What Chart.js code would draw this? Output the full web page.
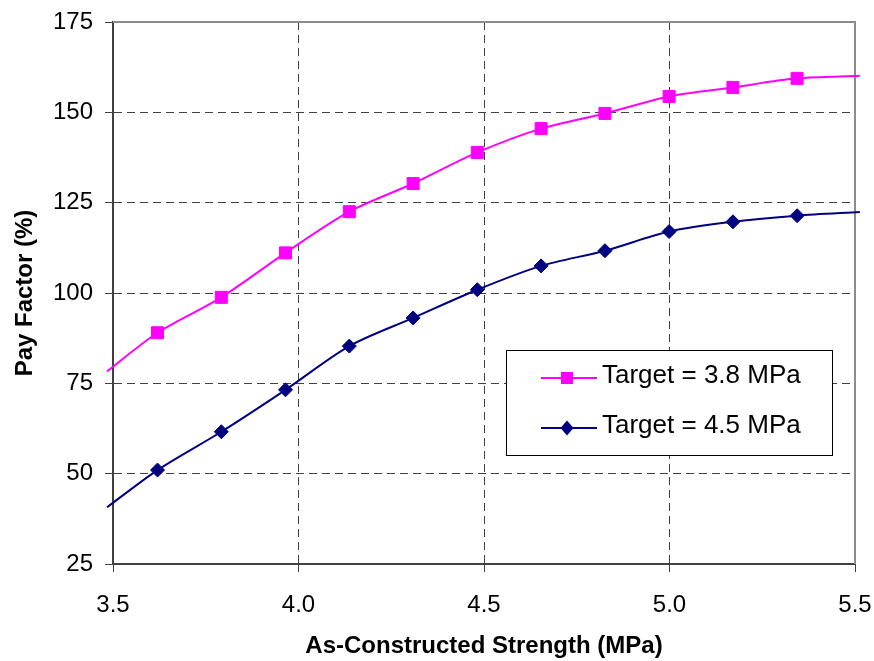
<!DOCTYPE html>
<html>
<head>
<meta charset="utf-8">
<script src="https://cdn.jsdelivr.net/npm/chart.js@4.4.1/dist/chart.umd.min.js"></script>
<style>
  html, body { margin: 0; padding: 0; background: #ffffff; }
</style>
</head>
<body>
<canvas id="chart" width="874" height="661"></canvas>
<script>
// As-constructed strength (MPa); first and last entries are where the curves run out of the plot
const strength = [3.484, 3.620, 3.792, 3.965, 4.137, 4.309, 4.482, 4.654, 4.826, 4.999, 5.171, 5.344, 5.513];
const payTarget38 = [78.3, 89.0, 98.8, 111.1, 122.5, 130.3, 138.9, 145.5, 149.7, 154.4, 156.9, 159.4, 160.1];
const payTarget45 = [40.7, 51.0, 61.6, 73.2, 85.3, 93.1, 100.9, 107.5, 111.7, 117.0, 119.7, 121.4, 122.4];
const seriesNames = ['Target = 3.8 MPa', 'Target = 4.5 MPa'];
const xTicks = [3.5, 4.0, 4.5, 5.0, 5.5];
const yTicks = [25, 50, 75, 100, 125, 150, 175];

const pink = '#ff00ff';
const navy = '#000080';
const axisGrey = '#404040';
const fontFamily = '"Liberation Sans", Arial, sans-serif';

const toPoints = (ys) => strength.map((x, i) => ({ x, y: ys[i] }));
// no marker on the run-out ends
const markerRadius = (r) => (c) => (c.dataIndex === 0 || c.dataIndex === strength.length - 1 ? 0 : r);

// frame: grey top and right edges of the plot area
const framePlugin = {
    id: 'frame',
    beforeDatasetsDraw(chart) {
        const { ctx, chartArea: a } = chart;
        ctx.save();
        ctx.strokeStyle = '#8c8c8c';
        ctx.lineWidth = 2;
        ctx.beginPath();
        ctx.moveTo(a.left, a.top);
        ctx.lineTo(a.right, a.top);
        ctx.lineTo(a.right, a.bottom);
        ctx.stroke();
        ctx.restore();
    },
};

// boxed legend inside the plot
const boxLegend = {
    id: 'boxLegend',
    afterDraw(chart) {
        const { ctx } = chart;
        const box = { x: 506, y: 350, w: 326, h: 105 };
        ctx.save();
        ctx.fillStyle = '#ffffff';
        ctx.fillRect(box.x, box.y, box.w, box.h);
        ctx.strokeStyle = '#000000';
        ctx.lineWidth = 1;
        ctx.strokeRect(box.x + 0.5, box.y + 0.5, box.w, box.h);
        chart.data.datasets.forEach((ds, i) => {
            const y = 378 + i * 50;
            ctx.strokeStyle = ds.borderColor;
            ctx.lineWidth = 2;
            ctx.beginPath();
            ctx.moveTo(541, y);
            ctx.lineTo(597, y);
            ctx.stroke();
            ctx.fillStyle = ds.backgroundColor;
            if (ds.pointStyle === 'rect') {
                ctx.fillRect(561, y - 6, 12, 12);
            } else {
                ctx.beginPath();
                ctx.moveTo(567, y - 7.5);
                ctx.lineTo(573.5, y);
                ctx.lineTo(567, y + 7.5);
                ctx.lineTo(560.5, y);
                ctx.closePath();
                ctx.fill();
            }
            ctx.fillStyle = '#000000';
            ctx.font = '26px ' + fontFamily;
            ctx.textBaseline = 'middle';
            ctx.textAlign = 'left';
            ctx.fillText(ds.label, 602, y - 2);
        });
        ctx.restore();
    },
};

new Chart(document.getElementById('chart'), {
    type: 'line',
    data: {
        datasets: [
            {
                label: seriesNames[0],
                data: toPoints(payTarget38),
                borderColor: pink,
                backgroundColor: pink,
                borderWidth: 2,
                pointStyle: 'rect',
                pointRadius: markerRadius(8.5),
                pointBorderWidth: 1,
                pointBorderColor: pink,
                tension: 0.3,
                clip: { left: 7, right: 6, top: 0, bottom: 0 },
            },
            {
                label: seriesNames[1],
                data: toPoints(payTarget45),
                borderColor: navy,
                backgroundColor: navy,
                borderWidth: 2,
                pointStyle: 'rectRot',
                pointRadius: markerRadius(7),
                pointBorderWidth: 1,
                pointBorderColor: navy,
                tension: 0.3,
                clip: { left: 7, right: 6, top: 0, bottom: 0 },
            },
        ],
    },
    options: {
        responsive: false,
        animation: false,
        events: [],
        layout: { padding: { top: 22, right: 19, left: 0, bottom: 0 } },
        plugins: {
            legend: { display: false },
            tooltip: { enabled: false },
        },
        scales: {
            x: {
                type: 'linear',
                min: 3.5,
                max: 5.5,
                afterFit: (s) => {
                    s.height = 97;
                    s.paddingLeft = 0;
                    s.paddingRight = 0;
                },
                afterBuildTicks: (s) => { s.ticks = xTicks.map((v) => ({ value: v })); },
                ticks: {
                    padding: 19,
                    color: '#000000',
                    font: { family: fontFamily, size: 24 },
                    callback: (v) => Number(v).toFixed(1),
                },
                grid: { color: axisGrey, lineWidth: 1, tickLength: 8, tickColor: axisGrey, tickBorderDash: [] },
                border: { display: true, color: axisGrey, width: 2, dash: [8, 5] },
                title: {
                    display: true,
                    text: 'As-Constructed Strength (MPa)',
                    color: '#000000',
                    font: { family: fontFamily, size: 24, weight: 'bold' },
                    padding: { top: 0, bottom: 0 },
                },
            },
            y: {
                min: 25,
                max: 175,
                afterFit: (s) => {
                    s.width = 113;
                    s.paddingTop = 0;
                    s.paddingBottom = 0;
                },
                afterBuildTicks: (s) => { s.ticks = yTicks.map((v) => ({ value: v })); },
                ticks: {
                    padding: 12,
                    color: '#000000',
                    font: { family: fontFamily, size: 24 },
                },
                grid: { color: axisGrey, lineWidth: 1, tickLength: 8, tickColor: axisGrey, tickBorderDash: [] },
                border: { display: true, color: axisGrey, width: 2, dash: [8, 5] },
                title: {
                    display: true,
                    text: 'Pay Factor (%)',
                    color: '#000000',
                    font: { family: fontFamily, size: 24, weight: 'bold' },
                    padding: { top: 11, bottom: 0 },
                },
            },
        },
    },
    plugins: [framePlugin, boxLegend],
});
</script>
</body>
</html>
